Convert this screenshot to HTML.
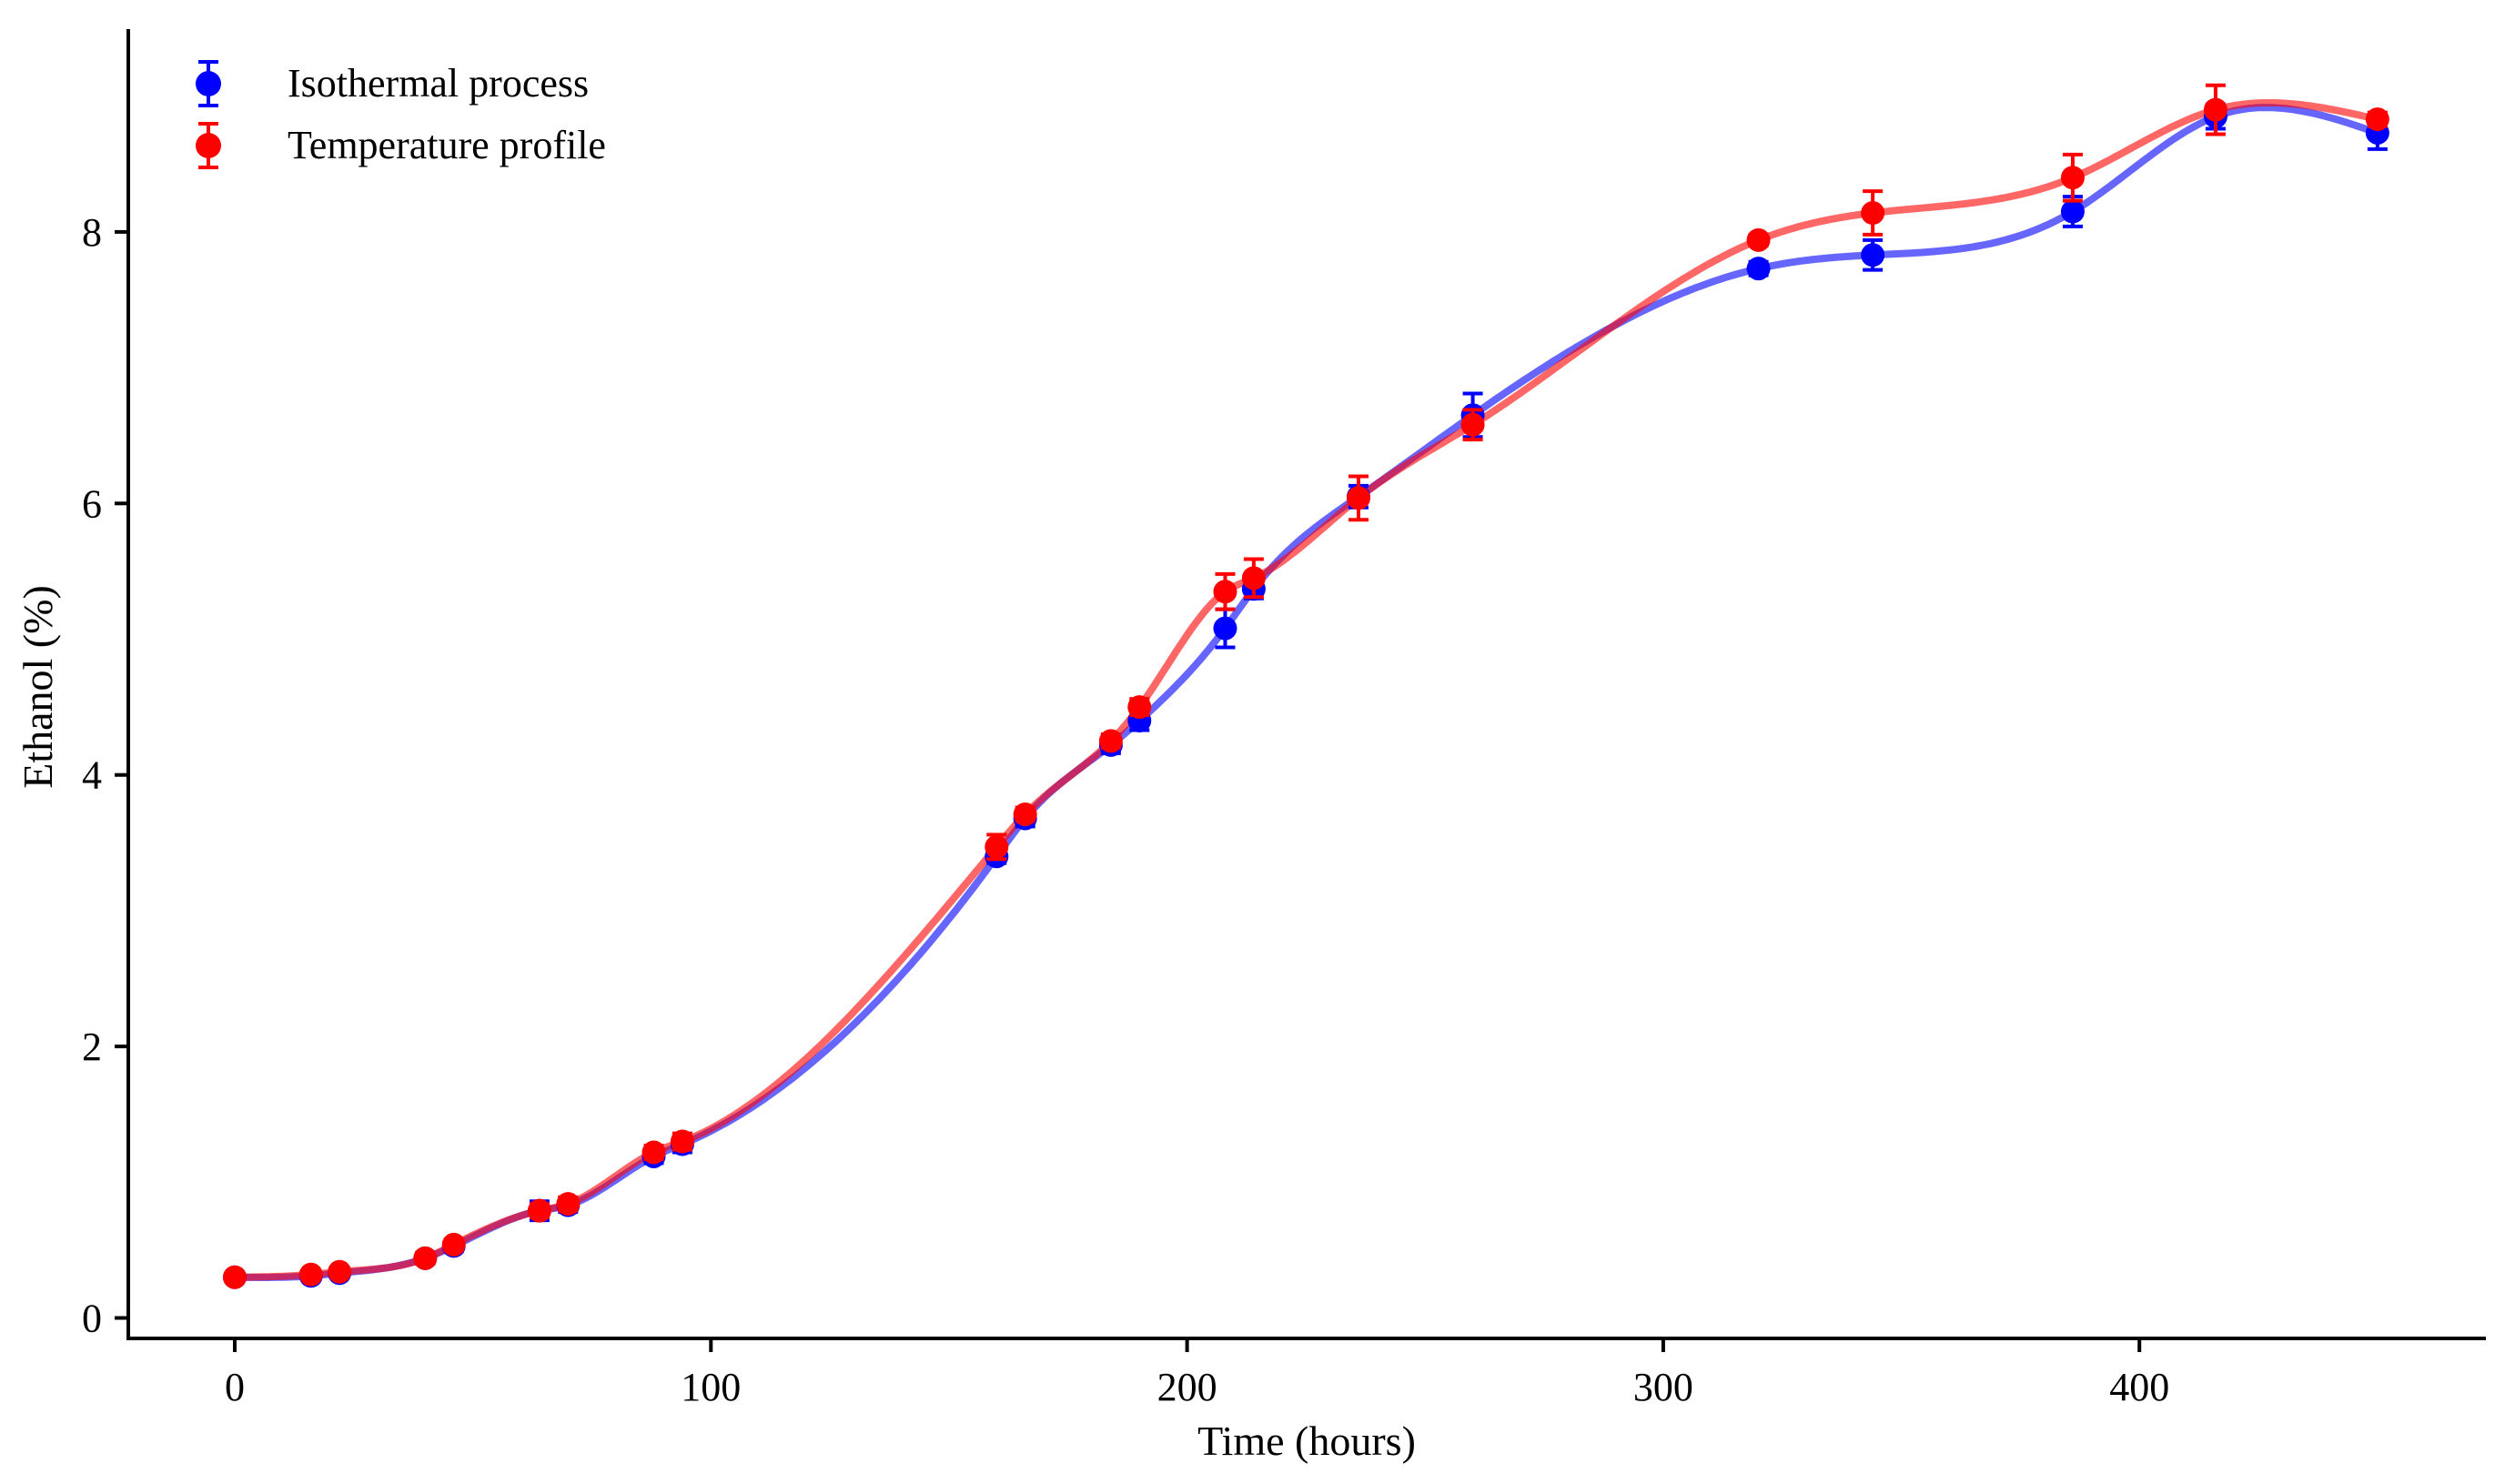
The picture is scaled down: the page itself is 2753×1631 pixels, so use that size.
<!DOCTYPE html>
<html><head><meta charset="utf-8"><style>
html,body{margin:0;padding:0;background:#fff;}
svg{display:block;font-family:"Liberation Serif",serif;}
</style></head><body>
<svg id="chart" width="2753" height="1631" viewBox="0 0 2753 1631" xmlns="http://www.w3.org/2000/svg">
<g id="curves"></g>
<g id="points"></g>
<g id="axes"></g>
</svg>
<script>
const times = [0,16,22,40,46,64,70,88,94,160,166,184,190,208,214,236,260,320,344,386,416,450];
const isoVals = [0.30,0.31,0.33,0.44,0.53,0.79,0.83,1.19,1.28,3.40,3.68,4.22,4.40,5.08,5.37,6.05,6.65,7.73,7.83,8.15,8.85,8.73];
const isoErr = [0.03,0.03,0.03,0.04,0.04,0.07,0.05,0.05,0.06,0.05,0.06,0.06,0.07,0.14,0.07,0.08,0.16,0.05,0.11,0.11,0.09,0.12];
const tempVals = [0.30,0.32,0.34,0.44,0.54,0.79,0.84,1.22,1.30,3.47,3.71,4.25,4.50,5.35,5.45,6.04,6.58,7.94,8.14,8.40,8.90,8.83];
const tempErr = [0.03,0.03,0.03,0.04,0.04,0.05,0.05,0.05,0.06,0.09,0.05,0.05,0.06,0.13,0.14,0.16,0.11,0.04,0.16,0.17,0.18,0.05];
const xTicks = [0,100,200,300,400];
const yTicks = [0,2,4,6,8];

const NS="http://www.w3.org/2000/svg";
const X = v => 258 + v*5.233;
const Y = v => 1448.5 - v*149.2;
function mk(tag, attrs, parent){const e=document.createElementNS(NS,tag);for(const k in attrs)e.setAttribute(k,attrs[k]);parent.appendChild(e);return e;}
const gC=document.getElementById('curves'), gP=document.getElementById('points'), gA=document.getElementById('axes');

function spline(xs, ys){
  const n=xs.length, h=[], a=[], l=[1], mu=[0], z=[0], c=new Array(n).fill(0), b=[], d=[];
  for(let i=0;i<n-1;i++)h.push(xs[i+1]-xs[i]);
  for(let i=1;i<n-1;i++)a[i]=3/h[i]*(ys[i+1]-ys[i])-3/h[i-1]*(ys[i]-ys[i-1]);
  for(let i=1;i<n-1;i++){l[i]=2*(xs[i+1]-xs[i-1])-h[i-1]*mu[i-1];mu[i]=h[i]/l[i];z[i]=(a[i]-h[i-1]*z[i-1])/l[i];}
  for(let j=n-2;j>=0;j--){c[j]=(j>0?z[j]:0)-mu[j]*c[j+1];b[j]=(ys[j+1]-ys[j])/h[j]-h[j]*(c[j+1]+2*c[j])/3;d[j]=(c[j+1]-c[j])/(3*h[j]);}
  return t=>{let i=0;while(i<n-2&&t>xs[i+1])i++;const dx=t-xs[i];return ys[i]+b[i]*dx+c[i]*dx*dx+d[i]*dx*dx*dx;};
}
function curve(vals,color,name){
  const f=spline(times,vals);let p='';
  for(let t=0;t<=450;t+=1){p+=(t?'L':'M')+X(t).toFixed(1)+','+Y(f(t)).toFixed(1);}
  const e=mk('path',{d:p,fill:'none',stroke:color,'stroke-width':8,'stroke-opacity':0.6,'stroke-linejoin':'round'},gC);
  
  
}
curve(isoVals,'#0000ff','isothermal-curve');
curve(tempVals,'#ff0000','temperature-curve');

function pts(vals,errs,color,name){
  const g=mk('g',{},gP);
  
  
  times.forEach((t,i)=>{
    const x=X(t), y1=Y(vals[i]-errs[i]), y2=Y(vals[i]+errs[i]);
    mk('line',{x1:x,x2:x,y1:y1,y2:y2,stroke:color,'stroke-width':4},g);
    mk('line',{x1:x-11,x2:x+11,y1:y1,y2:y1,stroke:color,'stroke-width':4},g);
    mk('line',{x1:x-11,x2:x+11,y1:y2,y2:y2,stroke:color,'stroke-width':4},g);
    const c=mk('circle',{cx:x,cy:Y(vals[i]),r:13,fill:color},g);
    
    
  });
}
pts(isoVals,isoErr,'#0000ff','isothermal-points');
pts(tempVals,tempErr,'#ff0000','temperature-points');

mk('line',{x1:141,x2:141,y1:32,y2:1473,stroke:'#000','stroke-width':4},gA);
mk('line',{x1:139,x2:2732,y1:1471,y2:1471,stroke:'#000','stroke-width':4},gA);
xTicks.forEach(v=>{
  mk('line',{x1:X(v),x2:X(v),y1:1471,y2:1486,stroke:'#000','stroke-width':4},gA);
  const t=mk('text',{x:X(v),y:1539,'font-size':44,'text-anchor':'middle'},gA);t.textContent=v;
  
  
});
yTicks.forEach(v=>{
  mk('line',{x1:126,x2:141,y1:Y(v),y2:Y(v),stroke:'#000','stroke-width':4},gA);
  const t=mk('text',{x:112,y:Y(v)+15,'font-size':44,'text-anchor':'end'},gA);t.textContent=v;
  
  
});
</script>
<svg style="position:absolute;left:0;top:0" width="2753" height="1631">
<text x="1436" y="1599" font-size="46" text-anchor="middle" font-family="Liberation Serif, serif">Time (hours)</text>
<text transform="translate(57,755) rotate(-90)" font-size="46" text-anchor="middle" font-family="Liberation Serif, serif">Ethanol (%)</text>
<g>
<g>
<line x1="229" x2="229" y1="68" y2="116" stroke="#0000ff" stroke-width="4"/>
<line x1="218" x2="240" y1="68" y2="68" stroke="#0000ff" stroke-width="4"/>
<line x1="218" x2="240" y1="116" y2="116" stroke="#0000ff" stroke-width="4"/>
<circle cx="229" cy="92" r="14" fill="#0000ff"/>
<text x="316" y="106" font-size="44" font-family="Liberation Serif, serif">Isothermal process</text>
</g>
<g>
<line x1="229" x2="229" y1="136" y2="184" stroke="#ff0000" stroke-width="4"/>
<line x1="218" x2="240" y1="136" y2="136" stroke="#ff0000" stroke-width="4"/>
<line x1="218" x2="240" y1="184" y2="184" stroke="#ff0000" stroke-width="4"/>
<circle cx="229" cy="160" r="14" fill="#ff0000"/>
<text x="316" y="174" font-size="44" font-family="Liberation Serif, serif">Temperature profile</text>
</g>
</g>
</svg>
</body></html>
